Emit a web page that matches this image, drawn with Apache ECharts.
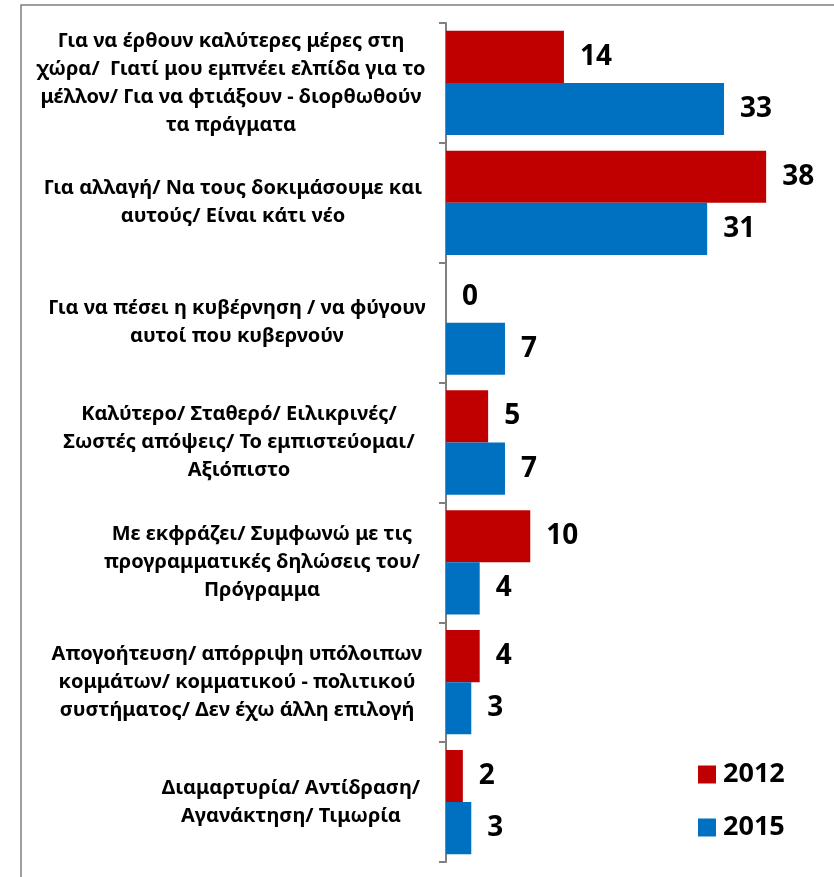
<!DOCTYPE html>
<html>
<head>
<meta charset="utf-8">
<script src="https://cdn.jsdelivr.net/npm/echarts@6/dist/echarts.min.js"></script>
<style>
html,body{margin:0;padding:0;background:#fff;}
#chart{width:834px;height:877px;}
</style>
</head>
<body>
<div id="chart"></div>
<script>
const categories = [
  'Για να έρθουν καλύτερες μέρες στη\nχώρα/  Γιατί μου εμπνέει ελπίδα για το\nμέλλον/ Για να φτιάξουν - διορθωθούν\nτα πράγματα',
  'Για αλλαγή/ Να τους δοκιμάσουμε και\nαυτούς/ Είναι κάτι νέο',
  'Για να πέσει η κυβέρνηση / να φύγουν\nαυτοί που κυβερνούν',
  'Καλύτερο/ Σταθερό/ Ειλικρινές/\nΣωστές απόψεις/ Το εμπιστεύομαι/\nΑξιόπιστο',
  'Με εκφράζει/ Συμφωνώ με τις\nπρογραμματικές δηλώσεις του/\nΠρόγραμμα',
  'Απογοήτευση/ απόρριψη υπόλοιπων\nκομμάτων/ κομματικού - πολιτικού\nσυστήματος/ Δεν έχω άλλη επιλογή',
  'Διαμαρτυρία/ Αντίδραση/\nΑγανάκτηση/ Τιμωρία'
];
const seriesNames = ['2012', '2015'];
const values2012 = [14, 38, 0, 5, 10, 4, 2];
const values2015 = [33, 31, 7, 7, 4, 3, 3];

// horizontal shift of each label block (layout only)
const labelShift = [-6, -4, 0, 2, 25, 0, 54];

const FONT = '"Noto Sans", sans-serif';

const yData = categories.map((c, i) => {
  const s = labelShift[i];
  return {
    value: c,
    textStyle: {
      align: 'center',
      padding: s >= 0 ? [0, 0, 0, 2 * s] : [0, -2 * s, 0, 0]
    }
  };
});

const chart = echarts.init(document.getElementById('chart'));
chart.setOption({
  animation: false,
  backgroundColor: '#fff',
  textStyle: { fontFamily: FONT },
  graphic: [{
    type: 'rect',
    shape: { x: 21, y: 5, width: 900, height: 900 },
    style: { fill: 'none', stroke: '#7f7f7f', lineWidth: 1.5 },
    silent: true
  }],
  legend: {
    orient: 'vertical',
    left: 698,
    top: 761,
    padding: 0,
    itemWidth: 18,
    itemHeight: 18,
    itemGap: 26,
    icon: 'rect',
    textStyle: { fontFamily: FONT, fontSize: 27, fontWeight: 'bold', color: '#000', padding: [0, 0, 0, 2] },
    data: seriesNames
  },
  grid: { left: 446, top: 23, bottom: 15, right: 51, containLabel: false, outerBoundsMode: 'none' },
  xAxis: {
    type: 'value',
    min: 0,
    max: 40,
    show: false
  },
  yAxis: {
    type: 'category',
    inverse: true,
    data: yData,
    axisLine: { show: true, lineStyle: { color: '#808080', width: 2 } },
    axisTick: { show: true, length: 7, lineStyle: { color: '#808080', width: 2 } },
    axisLabel: {
      align: 'center',
      margin: 209,
      fontFamily: FONT,
      fontSize: 20,
      fontWeight: 'bold',
      color: '#000',
      lineHeight: 28,
      interval: 0,
      hideOverlap: false
    },
    splitLine: { show: false }
  },
  series: [
    {
      name: seriesNames[0],
      type: 'bar',
      data: values2012,
      barGap: '0%',
      barCategoryGap: '13%',
      itemStyle: { color: '#C00000' },
      label: { show: true, position: 'right', distance: 16, fontFamily: FONT, fontSize: 28, fontWeight: 'bold', color: '#000' }
    },
    {
      name: seriesNames[1],
      type: 'bar',
      data: values2015,
      barGap: '0%',
      barCategoryGap: '13%',
      itemStyle: { color: '#0070C0' },
      label: { show: true, position: 'right', distance: 16, fontFamily: FONT, fontSize: 28, fontWeight: 'bold', color: '#000' }
    }
  ]
});
</script>
</body>
</html>
